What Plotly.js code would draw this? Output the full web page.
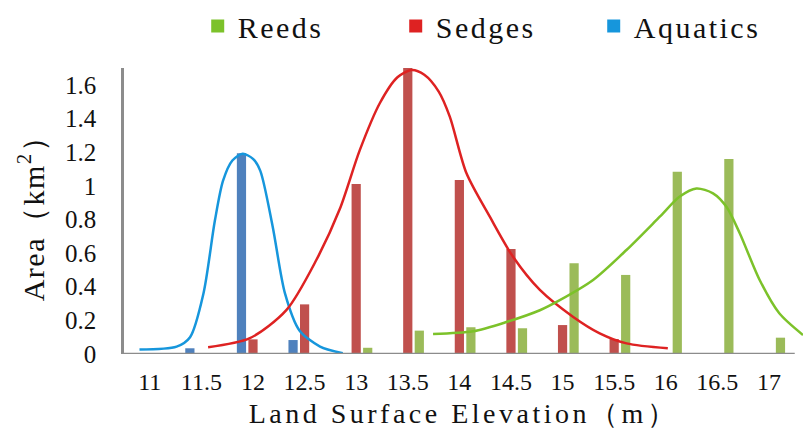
<!DOCTYPE html>
<html>
<head>
<meta charset="utf-8">
<script src="https://cdn.plot.ly/plotly-3.0.1.min.js"></script>
<style>
html,body{margin:0;padding:0;background:#fff;}
#chart{width:807px;height:434px;}
.xtitle{letter-spacing:3.5px;}
.ytitle{letter-spacing:1.5px;}
.legendtext{letter-spacing:2.5px;}
</style>
</head>
<body>
<div id="chart"></div>
<script>
// Categories (land surface elevation, m)
const elevations = [11, 11.5, 12, 12.5, 13, 13.5, 14, 14.5, 15, 15.5, 16, 16.5, 17];
const tickLabels = ["11","11.5","12","12.5","13","13.5","14","14.5","15","15.5","16","16.5","17"];

// Bar values (area, km^2)
const aquaticsArea = [0, 0.034, 1.193, 0.083, 0, 0, 0, 0, 0, 0, 0, 0, 0];
const sedgesArea   = [0, 0.005, 0.087, 0.295, 1.011, 1.70, 1.034, 0.624, 0.172, 0.089, 0, 0, 0];
const reedsArea    = [0, 0, 0, 0, 0.037, 0.139, 0.159, 0.153, 0.539, 0.470, 1.084, 1.159, 0.097];

// Fitted curves
const aquaticsCurveX = [10.90, 11.26, 11.39, 11.52, 11.63, 11.71, 11.80, 11.90, 12.00, 12.07, 12.19, 12.31, 12.45, 12.65, 12.87];
const aquaticsCurveY = [0.027, 0.044, 0.10, 0.36, 0.79, 1.03, 1.15, 1.19, 1.16, 1.09, 0.76, 0.36, 0.14, 0.044, 0.004];

const sedgesCurveX = [11.565, 11.97, 12.325, 12.615, 12.84, 13.035, 13.23, 13.40, 13.536, 13.66, 13.80, 13.907, 14.069, 14.295, 14.52, 14.78, 15.10, 15.36, 15.62, 16.02];
const sedgesCurveY = [0.040, 0.094, 0.262, 0.560, 0.86, 1.212, 1.492, 1.645, 1.688, 1.66, 1.56, 1.411, 1.074, 0.816, 0.578, 0.381, 0.222, 0.123, 0.063, 0.034];

const reedsCurveX = [13.745, 14.133, 14.456, 14.78, 14.973, 15.296, 15.619, 15.942, 16.136, 16.297, 16.458, 16.588, 16.717, 16.91, 17.10, 17.33];
const reedsCurveY = [0.119, 0.135, 0.19, 0.26, 0.32, 0.44, 0.618, 0.816, 0.936, 0.984, 0.955, 0.875, 0.718, 0.44, 0.242, 0.113];

const seriesNames = ["Reeds", "Sedges", "Aquatics"];
const yTicks = [0, 0.2, 0.4, 0.6, 0.8, 1, 1.2, 1.4, 1.6];

const barColors = {Reeds: "#9bbb59", Sedges: "#c0504d", Aquatics: "#4f81bd"};
const lineColors = {Reeds: "#7cc22a", Sedges: "#de2222", Aquatics: "#1696dc"};
const serif = "Liberation Serif";

const traces = [
  {type: "bar", x: elevations, y: aquaticsArea, name: "Aquatics", marker: {color: barColors.Aquatics}, showlegend: false, hoverinfo: "skip"},
  {type: "bar", x: elevations, y: sedgesArea, name: "Sedges", marker: {color: barColors.Sedges}, showlegend: false, hoverinfo: "skip"},
  {type: "bar", x: elevations, y: reedsArea, name: "Reeds", marker: {color: barColors.Reeds}, showlegend: false, hoverinfo: "skip"},
  {type: "scatter", mode: "lines", x: aquaticsCurveX, y: aquaticsCurveY, line: {color: lineColors.Aquatics, width: 2.5, shape: "spline", smoothing: 0.8}, showlegend: false, hoverinfo: "skip"},
  {type: "scatter", mode: "lines", x: sedgesCurveX, y: sedgesCurveY, line: {color: lineColors.Sedges, width: 2.5, shape: "spline", smoothing: 0.8}, showlegend: false, hoverinfo: "skip"},
  {type: "scatter", mode: "lines", x: reedsCurveX, y: reedsCurveY, line: {color: lineColors.Reeds, width: 2.5, shape: "spline", smoothing: 0.8}, showlegend: false, hoverinfo: "skip"}
];
// legend entries
seriesNames.forEach(function(n, i){
  traces.push({type: "scatter", mode: "markers", x: [null], y: [null], name: n,
    marker: {symbol: "square", size: 13, color: lineColors[n]}, legendrank: i + 1});
});

const layout = {
  width: 807, height: 434,
  margin: {l: 124, r: 4, t: 68, b: 80},
  paper_bgcolor: "#fff", plot_bgcolor: "#fff",
  barmode: "group", bargap: 0.33, bargroupgap: 0.2,
  font: {family: serif, size: 24, color: "#111"},
  showlegend: true,
  legend: {orientation: "h", xref: "container", yref: "container", x: 0.245, xanchor: "left", y: 1.0, yanchor: "top",
           font: {family: serif, size: 30, color: "#111"}, entrywidth: 153, itemwidth: 30, bgcolor: "rgba(0,0,0,0)"},
  xaxis: {
    range: [10.75, 17.33], tickvals: elevations, ticktext: tickLabels, tickangle: 0,
    showline: false, showgrid: false, zeroline: false,
    ticks: "outside", ticklen: 6, tickcolor: "rgba(0,0,0,0)",
    tickfont: {family: serif, size: 24, color: "#111"},
    title: {text: "Land Surface Elevation（m）", font: {family: serif, size: 28, color: "#111"}, standoff: 9}
  },
  yaxis: {
    range: [0, 1.70], tickvals: yTicks, ticktext: yTicks.map(String),
    showline: true, linecolor: "#8c8c8c", linewidth: 2.5, showgrid: false, zeroline: false,
    ticks: "outside", ticklen: 20, tickcolor: "rgba(0,0,0,0)",
    tickfont: {family: serif, size: 25, color: "#111"},
    title: {text: "Area（km<sup>2</sup>）", font: {family: serif, size: 30, color: "#111"}, standoff: 12}
  },
  shapes: [{type: "line", xref: "x", yref: "y", x0: 10.75, x1: 17.25, y0: 0, y1: 0, line: {color: "#8c8c8c", width: 2.5}}]
};

Plotly.newPlot("chart", traces, layout, {displayModeBar: false});
</script>
</body>
</html>
